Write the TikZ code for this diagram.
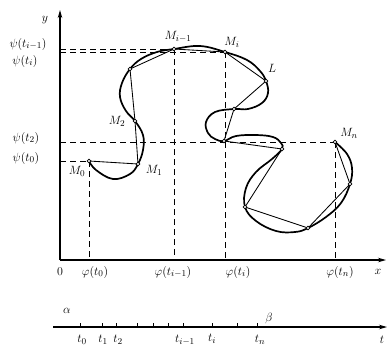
\documentclass[tikz,border=0pt]{standalone}
\usetikzlibrary{arrows.meta}
\begin{document}
\begin{tikzpicture}[x=1pt,y=-1pt,
  axis/.style={line width=1.2pt,-{Stealth[length=8pt,width=4.5pt]}},
  curve/.style={line width=1.7pt,line join=round},
  chord/.style={line width=0.85pt},
  guide/.style={line width=1pt,dash pattern=on 6pt off 4pt},
  pt/.style={circle,draw,fill=white,inner sep=0pt,minimum size=3.8pt,line width=0.6pt},
  lbl/.style={font=\fontsize{12.5}{14}\selectfont,inner sep=1pt},
  tick/.style={line width=0.9pt}]
\useasboundingbox (0,0) rectangle (390,346);
% axes
\coordinate (O) at (60,260);
\coordinate (yend) at (60,10);
\coordinate (xend) at (386,260);
\draw[axis] (O) -- (yend);
\draw[axis] (O) -- (xend);
% points
\coordinate (M0) at (89,161);
\coordinate (M1) at (138,164);
\coordinate (M2) at (135,121);
\coordinate (A) at (130,69);
\coordinate (Mim) at (174,49);
\coordinate (Mi) at (225,52);
\coordinate (L) at (266,81);
\coordinate (B) at (234,109);
\coordinate (C) at (224,141);
\coordinate (D) at (282,149);
\coordinate (E) at (245,207);
\coordinate (F) at (308,228);
\coordinate (G) at (350,184);
\coordinate (Mn) at (335,142);
% guides
\draw[guide] (M0 -| O) -- (M0);
\draw[guide] (Mim -| O) -- (Mim);
\draw[guide] (Mi -| O) -- (Mi);
\draw[guide] (Mn -| O) -- (Mn);
\draw[guide] (M0) -- (M0 |- O);
\draw[guide] (Mim) -- (Mim |- O);
\draw[guide] (Mi) -- (Mi |- O);
\draw[guide] (Mn) -- (Mn |- O);
% curve
\draw[curve] plot[smooth,tension=0.65] coordinates {
 (89,161) (96,170) (113,179) (130,174) (138,164) (143,150) (143,135) (135,121)
 (126,111) (120,97) (122,83) (130,69) (141,59) (157,52) (174,49) (200,46)
 (225,52) (247,60) (260,71) (266,81) (268,93) (262,103) (248,109) (234,109)
 (215,112) (206,122) (208,133) (215,139) (224,141) (236,136) (256,135) (273,137)
 (281,143) (282,149) (272,159) (256,172) (246,188) (245,207) (256,221) (276,231)
 (295,232) (308,228) (326,217) (341,203) (350,184) (352,168) (347,154) (335,142)};
% chords
\draw[chord] (M0) -- (M1) -- (M2) -- (A) -- (Mim) -- (Mi) -- (L) -- (B) -- (C)
  -- (D) -- (E) -- (F) -- (G) -- (Mn);
\foreach \p in {M0,M1,M2,A,Mim,Mi,L,B,C,D,E,F,G,Mn}
  \node[pt] at (\p) {};
% labels
\node[lbl] (ly) at (45,20) {$y$};
\node[lbl] (lpa) at (28,44) {$\psi(t_{i-1})$};
\node[lbl] (lpb) at (25,61) {$\psi(t_i)$};
\node[lbl] (lpc) at (26,138) {$\psi(t_2)$};
\node[lbl] (lpd) at (26,158) {$\psi(t_0)$};
\node[lbl] (lMim) at (178,37) {$M_{i-1}$};
\node[lbl] (lMi) at (232,42) {$M_i$};
\node[lbl] (lL) at (272,68) {$L$};
\node[lbl] (lM2) at (117,121) {$M_2$};
\node[lbl] (lM1) at (154,170) {$M_1$};
\node[lbl] (lM0) at (77,171) {$M_0$};
\node[lbl] (lMn) at (349,133) {$M_n$};
\node[lbl] (l0) at (60,272) {$0$};
\node[lbl] (lxa) at (95,272) {$\varphi(t_0)$};
\node[lbl] (lxb) at (173,272) {$\varphi(t_{i-1})$};
\node[lbl] (lxc) at (238,272) {$\varphi(t_i)$};
\node[lbl] (lxd) at (340,272) {$\varphi(t_n)$};
\node[lbl] (lx) at (378,272) {$x$};
% t axis
\coordinate (ts) at (53,327);
\coordinate (te) at (387,327);
\draw[axis,line width=1.1pt] (ts) -- (te);
\foreach \x in {80,102,116,137,153,168,183,212,237,257}
  \draw[tick] (\x,327) -- (\x,322.5);
\node[lbl] (lal) at (67,311) {$\alpha$};
\node[lbl] (lbe) at (269,318) {$\beta$};
\node[lbl] (lt0) at (82,340) {$t_0$};
\node[lbl] (lt1) at (103,340) {$t_1$};
\node[lbl] (lt2) at (118,340) {$t_2$};
\node[lbl] (lti1) at (185,340) {$t_{i-1}$};
\node[lbl] (lti) at (212,339) {$t_i$};
\node[lbl] (ltn) at (260,340) {$t_n$};
\node[lbl] (lt) at (382,340) {$t$};
\end{tikzpicture}
\end{document}
